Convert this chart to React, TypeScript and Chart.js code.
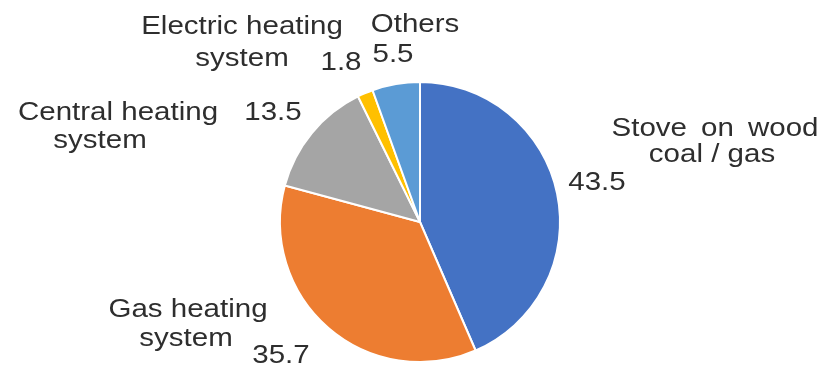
import React, { useEffect, useRef } from "react";
import { Chart, registerables } from "chart.js";

Chart.register(...registerables);

const categories = [
  "Stove on wood coal / gas",
  "Gas heating system",
  "Central heating system",
  "Electric heating system",
  "Others",
];
const shares = [43.5, 35.7, 13.5, 1.8, 5.5];
const valueLabels = ["43.5", "35.7", "13.5", "1.8", "5.5"];
const nameLines = [
  ["Stove on wood", "coal / gas"],
  ["Gas heating", "system"],
  ["Central heating", "system"],
  ["Electric heating", "system"],
  ["Others"],
];
const colors = ["#4472C4", "#ED7D31", "#A5A5A5", "#FFC000", "#5B9BD5"];

// text placement (center x, baseline y) for each name line and value label
const namePos = [
  [[715, 136], [712, 162]],
  [[188, 317], [186, 346]],
  [[118, 120], [100, 148]],
  [[242, 34], [242, 66]],
  [[415, 32]],
];
const valuePos = [
  [597, 190],
  [281, 363],
  [273, 120],
  [341, 70],
  [393, 62],
];
const wordGap = [
  ["5px", "0px"],
  ["0px", "0px"],
  ["0px", "0px"],
  ["0px", "0px"],
  ["0px"],
];

const FONT = "25px 'Liberation Sans', Arial, sans-serif";
const XSCALE = 1.18;

const labelPlugin = {
  id: "staticLabels",
  afterDraw(chart: any) {
    const ctx = chart.ctx;
    ctx.save();
    ctx.font = FONT;
    ctx.fillStyle = "#2e2e2e";
    ctx.textAlign = "center";
    ctx.textBaseline = "alphabetic";
    const draw = (t: string, x: number, y: number, gap = "0px") => {
      ctx.save();
      ctx.translate(x, y);
      ctx.scale(XSCALE, 1);
      if ("wordSpacing" in ctx) ctx.wordSpacing = gap;
      ctx.fillText(t, 0, 0);
      ctx.restore();
    };
    nameLines.forEach((lines, i) => {
      lines.forEach((ln, j) => {
        const p = namePos[i][j];
        draw(ln, p[0], p[1], wordGap[i][j]);
      });
      const v = valuePos[i];
      draw(valueLabels[i], v[0], v[1]);
    });
    ctx.restore();
  },
};

export default function App() {
  const ref = useRef<HTMLCanvasElement>(null);
  useEffect(() => {
    if (!ref.current) return;
    const chart = new Chart(ref.current, {
      type: "pie",
      data: {
        labels: categories,
        datasets: [
          {
            data: shares,
            backgroundColor: colors,
            borderColor: "#ffffff",
            borderWidth: 2,
          },
        ],
      },
      options: {
        responsive: false,
        animation: false,
        layout: { padding: { left: 279, right: 266, top: 81, bottom: 7 } },
        plugins: {
          legend: { display: false },
          tooltip: { enabled: false },
        },
      },
      plugins: [labelPlugin],
    });
    return () => chart.destroy();
  }, []);
  return (
    <div
      style={{
        position: "fixed",
        left: 0,
        top: 0,
        width: 827,
        height: 370,
        background: "#ffffff",
      }}
    >
      <canvas ref={ref} width={827} height={370} />
    </div>
  );
}
